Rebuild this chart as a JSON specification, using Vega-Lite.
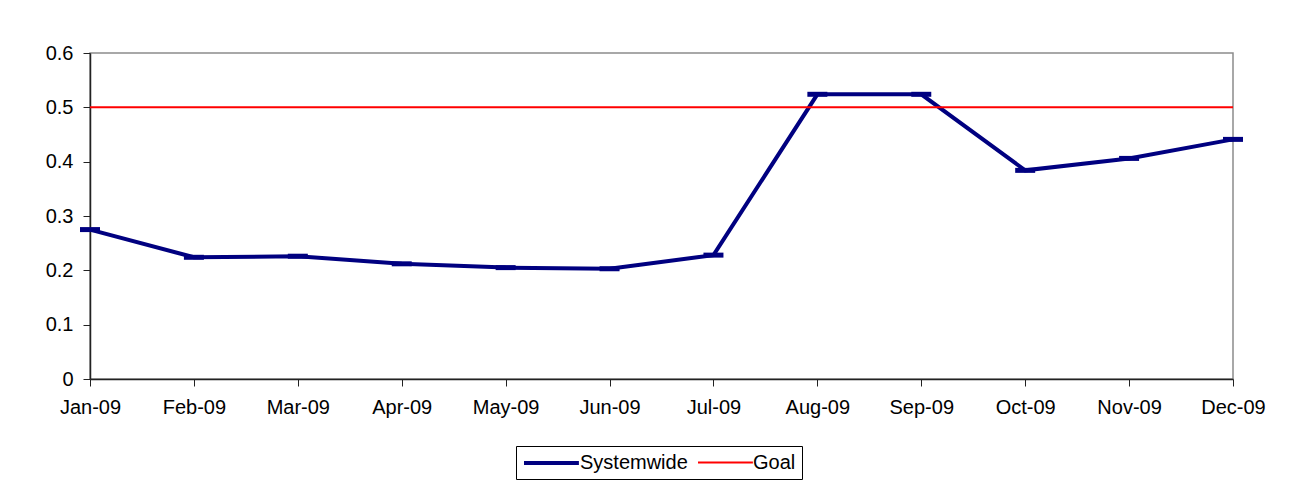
{
  "$schema": "https://vega.github.io/schema/vega-lite/v6.json",
  "width": 1143,
  "height": 326,
  "autosize": {"type": "none"},
  "padding": {"left": 90, "top": 53, "right": 64, "bottom": 114},
  "background": "white",
  "config": {
    "font": "Liberation Sans",
    "view": {"stroke": "#8c8c8c", "strokeWidth": 1.5},
    "axis": {
      "labelFont": "Liberation Sans",
      "labelFontSize": 20,
      "labelColor": "#000000",
      "domainColor": "#222222",
      "domainWidth": 1.5,
      "tickColor": "#222222",
      "tickWidth": 1,
      "tickSize": 7,
      "grid": false,
      "title": null
    },
    "legend": {
      "labelFont": "Liberation Sans",
      "labelFontSize": 20,
      "labelColor": "#000000"
    }
  },
  "data": {
    "values": [
      {"month": "Jan-09", "series": "Systemwide", "value": 0.275},
      {"month": "Feb-09", "series": "Systemwide", "value": 0.224},
      {"month": "Mar-09", "series": "Systemwide", "value": 0.226},
      {"month": "Apr-09", "series": "Systemwide", "value": 0.212},
      {"month": "May-09", "series": "Systemwide", "value": 0.205},
      {"month": "Jun-09", "series": "Systemwide", "value": 0.203},
      {"month": "Jul-09", "series": "Systemwide", "value": 0.228},
      {"month": "Aug-09", "series": "Systemwide", "value": 0.524},
      {"month": "Sep-09", "series": "Systemwide", "value": 0.524},
      {"month": "Oct-09", "series": "Systemwide", "value": 0.384},
      {"month": "Nov-09", "series": "Systemwide", "value": 0.406},
      {"month": "Dec-09", "series": "Systemwide", "value": 0.441},
      {"month": "Jan-09", "series": "Goal", "value": 0.5},
      {"month": "Feb-09", "series": "Goal", "value": 0.5},
      {"month": "Mar-09", "series": "Goal", "value": 0.5},
      {"month": "Apr-09", "series": "Goal", "value": 0.5},
      {"month": "May-09", "series": "Goal", "value": 0.5},
      {"month": "Jun-09", "series": "Goal", "value": 0.5},
      {"month": "Jul-09", "series": "Goal", "value": 0.5},
      {"month": "Aug-09", "series": "Goal", "value": 0.5},
      {"month": "Sep-09", "series": "Goal", "value": 0.5},
      {"month": "Oct-09", "series": "Goal", "value": 0.5},
      {"month": "Nov-09", "series": "Goal", "value": 0.5},
      {"month": "Dec-09", "series": "Goal", "value": 0.5}
    ]
  },
  "encoding": {
    "x": {
      "field": "month",
      "type": "nominal",
      "scale": {
        "type": "point",
        "padding": 0,
        "domain": ["Jan-09", "Feb-09", "Mar-09", "Apr-09", "May-09", "Jun-09", "Jul-09", "Aug-09", "Sep-09", "Oct-09", "Nov-09", "Dec-09"]
      },
      "axis": {"labelAngle": 0, "labelPadding": 11, "tickSize": 7}
    },
    "y": {
      "field": "value",
      "type": "quantitative",
      "scale": {"domain": [0, 0.6], "nice": false, "zero": true},
      "axis": {"values": [0, 0.1, 0.2, 0.3, 0.4, 0.5, 0.6], "format": ".1~f", "labelPadding": 10}
    }
  },
  "layer": [
    {
      "mark": {"type": "line", "interpolate": "linear"},
      "encoding": {
        "color": {
          "field": "series",
          "type": "nominal",
          "scale": {"domain": ["Systemwide", "Goal"], "range": ["#000080", "#ff0000"]},
          "legend": {
            "title": null,
            "orient": "none",
            "direction": "horizontal",
            "legendX": 426,
            "legendY": 393,
            "padding": 6,
            "strokeColor": "#000000",
            "fillColor": "#ffffff",
            "symbolType": "M-1,0H5.1",
            "symbolSize": 324,
            "labelOffset": 36,
            "columnPadding": 6
          }
        },
        "strokeWidth": {
          "field": "series",
          "type": "nominal",
          "scale": {"domain": ["Systemwide", "Goal"], "range": [4, 2]},
          "legend": {
            "title": null,
            "orient": "none",
            "direction": "horizontal",
            "legendX": 426,
            "legendY": 393,
            "padding": 6,
            "strokeColor": "#000000",
            "fillColor": "#ffffff",
            "symbolType": "M-1,0H5.1",
            "symbolSize": 324,
            "labelOffset": 36,
            "columnPadding": 6
          }
        }
      }
    },
    {
      "transform": [{"filter": "datum.series === 'Systemwide'"}],
      "mark": {"type": "tick", "color": "#000080", "thickness": 5, "size": 20, "opacity": 1}
    }
  ]
}
